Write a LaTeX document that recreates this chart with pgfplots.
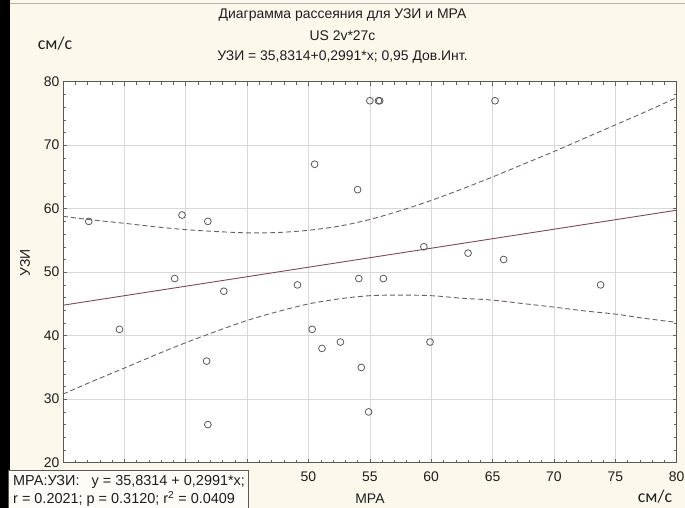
\documentclass[border=0pt]{standalone}
\usepackage{pgfplots}
\pgfplotsset{compat=1.18}
\usepackage{fontspec}
\setmainfont{Liberation Sans}
\newfontfamily\calib{Carlito}
\definecolor{bg}{RGB}{252,248,236}
\definecolor{fitc}{RGB}{128,72,84}
\definecolor{bandc}{RGB}{110,95,95}
\definecolor{markc}{RGB}{90,90,90}
\definecolor{txt}{RGB}{30,30,30}
\begin{document}
\begin{tikzpicture}[x=1bp,y=1bp]
\path[use as bounding box] (0,0) rectangle (685,508);
\fill[bg] (0,0) rectangle (685,508);
\fill[black] (0,0) rectangle (10,508);
\draw[gray!60, line width=1bp] (10,504) -- (685,504);
\begin{axis}[
  at={(63bp,45.3bp)}, anchor=south west, scale only axis,
  width=613.7bp, height=381bp,
  xmin=30, xmax=80, ymin=20, ymax=80,
  xtick={30,35,...,80}, ytick={20,30,...,80},
  xticklabels={,,,,50,55,60,65,70,75,80},
  minor x tick num=4, minor y tick num=4,
  grid=major, major grid style={draw=gray!30, line width=0.6bp},
  tick align=inside, major tick length=4bp, minor tick length=3bp,
  every tick/.style={gray!80!black, line width=0.5bp},
  axis line style={gray!70!black, line width=0.9bp},
  axis background/.style={fill=white},
  tick label style={font=\fontsize{14}{16}\selectfont, color=txt},
  /pgf/number format/assume math mode=true,
  xticklabel style={yshift=-6bp},
  clip=true,
]
\addplot[fitc, line width=0.9bp] coordinates {(30,44.80) (80,59.76)};
\addplot[bandc, line width=0.9bp, dash pattern=on 5bp off 3bp, smooth] coordinates {
(30,58.8) (32.5,58.2) (35,57.7) (37.5,57.15) (40,56.7) (42.5,56.4) (45,56.2) (47.5,56.25)
(50,56.6) (52.5,57.25) (55,58.3) (57.5,59.7) (60,61.3) (62.5,63.1) (65,65.0) (67.5,67.0)
(70,69.0) (72.5,71.1) (75,73.2) (77.5,75.3) (80,77.5)};
\addplot[bandc, line width=0.9bp, dash pattern=on 5bp off 3bp, smooth] coordinates {
(30,30.8) (32.5,32.9) (35,34.9) (37.5,36.95) (40,38.9) (42.5,40.7) (45,42.4) (47.5,43.8)
(50,45.0) (52.5,45.8) (55,46.3) (57.5,46.4) (60,46.3) (62.5,45.9) (65,45.6) (67.5,45.05)
(70,44.5) (72.5,43.9) (75,43.4) (77.5,42.7) (80,42.1)};
\addplot[only marks, mark=o, mark size=3.4bp, mark options={markc, line width=0.8bp}] coordinates {
(32.1,58) (39.7,59) (41.8,58) (50.5,67) (54.0,63) (55.0,77) (55.7,77) (55.8,77) (65.2,77)
(59.4,54) (63.0,53) (65.9,52) (34.6,41) (39.1,49) (43.1,47) (41.7,36) (41.8,26) (49.1,48)
(50.3,41) (51.1,38) (52.6,39) (54.3,35) (54.9,28) (54.1,49) (56.1,49) (73.8,48) (59.9,39)};
\end{axis}
\fill[black] (0,0) rectangle (10,508);
\draw[gray!70!black, line width=0.9bp, fill=white!60!bg] (8,-2) rectangle (248,37.3);
\node[anchor=west, txt, font=\fontsize{14.5}{16}\selectfont, inner sep=0] at (13,26) {МРА:УЗИ:\ \ \ y = 35,8314 + 0,2991*x;};
\node[anchor=west, txt, font=\fontsize{14.5}{16}\selectfont, inner sep=0] at (13,9) {r = 0.2021; p = 0.3120; r\textsuperscript{2} = 0.0409};
\node[txt, font=\fontsize{14}{16}\selectfont] at (342.5,493) {Диаграмма рассеяния для УЗИ и МРА};
\node[txt, font=\fontsize{14}{16}\selectfont] at (342.5,472) {US 2v*27c};
\node[txt, font=\fontsize{14}{16}\selectfont] at (342.5,451) {УЗИ = 35,8314+0,2991*x; 0,95 Дов.Инт.};
\node[txt, font=\fontsize{14}{16}\selectfont] at (370,9) {МРА};
\node[txt, font=\fontsize{14}{16}\selectfont, rotate=90] at (25,245) {УЗИ};
\node[txt, font=\calib\fontsize{18}{20}\selectfont] at (55,464) {см/с};
\node[txt, font=\calib\fontsize{18}{20}\selectfont, anchor=base, inner sep=0] at (655,5) {см/с};
\end{tikzpicture}
\end{document}
